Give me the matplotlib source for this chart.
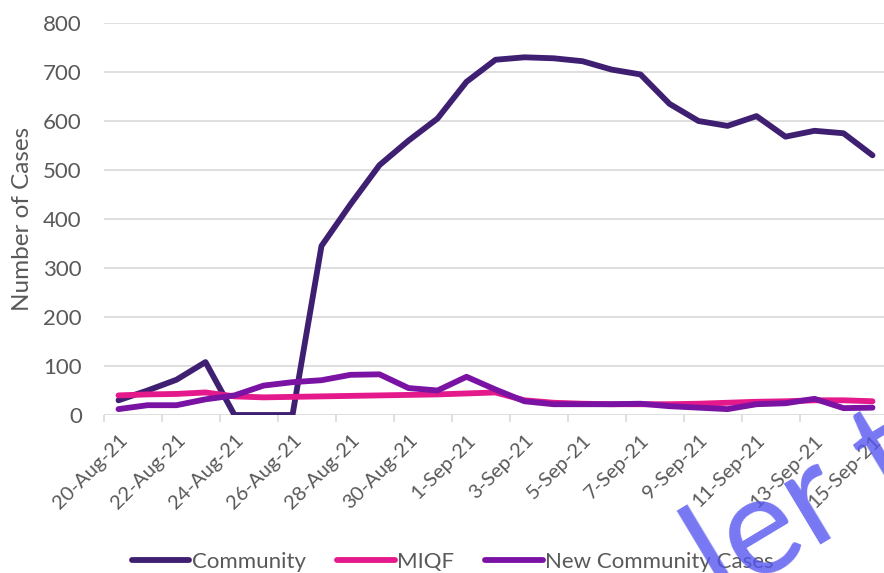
import numpy as np
import matplotlib
matplotlib.use('Agg')
import matplotlib.pyplot as plt

plt.rcParams['font.family'] = ['Lato', 'DejaVu Sans']

dates = ['20-Aug-21', '21-Aug-21', '22-Aug-21', '23-Aug-21', '24-Aug-21', '25-Aug-21',
         '26-Aug-21', '27-Aug-21', '28-Aug-21', '29-Aug-21', '30-Aug-21', '31-Aug-21',
         '1-Sep-21', '2-Sep-21', '3-Sep-21', '4-Sep-21', '5-Sep-21', '6-Sep-21',
         '7-Sep-21', '8-Sep-21', '9-Sep-21', '10-Sep-21', '11-Sep-21', '12-Sep-21',
         '13-Sep-21', '14-Sep-21', '15-Sep-21']

community = [30, 50, 72, 108, 0, 0, 0, 345, 430, 510, 560, 605, 680, 725, 730, 728,
             722, 705, 695, 635, 600, 590, 610, 568, 580, 575, 530]
miqf = [40, 42, 43, 46, 38, 36, 37, 38, 39, 40, 41, 42, 44, 46, 30, 25, 23, 22, 22,
        22, 23, 25, 27, 28, 30, 30, 28]
new_community = [12, 20, 20, 32, 40, 60, 67, 71, 82, 83, 55, 50, 78, 52, 28, 22, 22,
                 22, 23, 18, 15, 12, 22, 24, 33, 14, 15]

c_comm = '#3f1f72'
c_miqf = '#e4198b'
c_new = '#7a12a4'
grey_txt = '#595959'

fig = plt.figure(figsize=(8.84, 5.73), dpi=100)
ax = fig.add_axes([104/884, 1 - 415/573, 783/884, 392/573])

x = np.arange(len(dates))
ax.plot(x, community, color=c_comm, lw=4.2, solid_capstyle='round', label='Community', zorder=3)
ax.plot(x, miqf, color=c_miqf, lw=4.2, solid_capstyle='round', label='MIQF', zorder=4)
ax.plot(x, new_community, color=c_new, lw=4.2, solid_capstyle='round', label='New Community Cases', zorder=5)

ax.set_xlim(-0.5, len(dates) - 0.5)
ax.set_ylim(0, 800)
ax.set_yticks(np.arange(0, 801, 100))
ax.grid(axis='y', color='#d9d9d9', lw=1.2)
ax.set_axisbelow(True)
for s in ax.spines.values():
    s.set_visible(False)

ax.set_xticks(x[::2])
ax.set_xticklabels(dates[::2], rotation=45, ha='right', rotation_mode='anchor')
ax.set_xticks(np.arange(-0.5, len(dates), 2), minor=True)
ax.tick_params(axis='x', which='major', length=0, pad=12, labelsize=14.5, labelcolor=grey_txt)
ax.tick_params(axis='x', which='minor', length=5, color='#d9d9d9', width=1.2)
ax.tick_params(axis='y', length=0, pad=16, labelsize=16, labelcolor=grey_txt)
ax.set_ylabel('Number of Cases', fontsize=17.5, color=grey_txt, labelpad=7)

leg = fig.legend(loc='center', bbox_to_anchor=(0.512, 0.019), ncol=3, frameon=False,
                 fontsize=16, handlelength=2.6, handletextpad=0.1, columnspacing=1.4,
                 labelcolor=grey_txt)

# watermark fragment in the lower right corner
fig.text(668/884, -0.09, 'ler t', fontsize=100, color='#5555f0', alpha=0.8,
         rotation=31, ha='left', va='bottom', zorder=10)

fig.savefig('out.png', dpi=100)
